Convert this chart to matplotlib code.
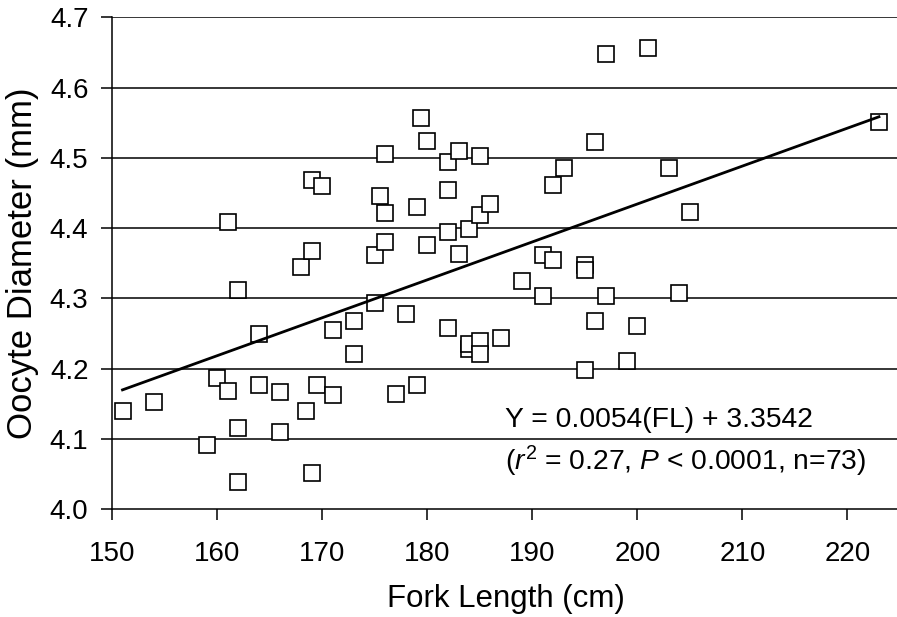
import matplotlib.pyplot as plt

plt.rcParams['font.family'] = ['Liberation Sans', 'DejaVu Sans']
plt.rcParams['mathtext.fontset'] = 'custom'
plt.rcParams['mathtext.rm'] = 'Liberation Sans'
plt.rcParams['mathtext.it'] = 'Liberation Sans:italic'

# fork length (cm) and oocyte diameter (mm)
fork_length = [151, 154, 159, 160, 161, 161, 162, 162, 162, 164, 164, 166, 166,
               168, 168.5, 169, 169, 169, 169.5, 170, 171, 171, 173, 173, 175,
               175, 175.5, 176, 176, 176, 177, 178, 179, 179, 179.4, 180, 180,
               182, 182, 182, 182, 183, 183, 184, 184, 184, 185, 185, 185, 185,
               186, 187, 189, 191, 191, 192, 192, 193, 195, 195, 195, 196, 196,
               197, 197, 199, 200, 201, 203, 204, 205, 223]
oocyte_diam = [4.140, 4.152, 4.091, 4.187, 4.168, 4.408, 4.312, 4.116, 4.039,
               4.249, 4.176, 4.167, 4.110, 4.345, 4.139, 4.051, 4.368, 4.469,
               4.177, 4.460, 4.162, 4.255, 4.267, 4.221, 4.293, 4.361, 4.446,
               4.505, 4.421, 4.380, 4.164, 4.277, 4.177, 4.430, 4.557, 4.524,
               4.376, 4.258, 4.494, 4.454, 4.395, 4.509, 4.363, 4.228, 4.235,
               4.399, 4.239, 4.220, 4.503, 4.419, 4.434, 4.244, 4.324, 4.362,
               4.303, 4.355, 4.461, 4.485, 4.347, 4.340, 4.198, 4.523, 4.267,
               4.648, 4.303, 4.211, 4.261, 4.656, 4.486, 4.308, 4.423, 4.551]

slope = 0.0054
intercept = 3.3542
fit_x = [151, 223]
fit_y = [slope * x + intercept for x in fit_x]

x_ticks = [150, 160, 170, 180, 190, 200, 210, 220]
y_ticks = [4.0, 4.1, 4.2, 4.3, 4.4, 4.5, 4.6, 4.7]

fig = plt.figure(figsize=(8.97, 6.17), dpi=100)
ax = fig.add_axes([112 / 897, 108 / 617, 788 / 897, 491.7 / 617])

for yv in y_ticks[1:]:
    ax.axhline(yv, color='black', lw=1.1, zorder=1)

ax.plot(fork_length, oocyte_diam, 's', ms=12, mfc='white', mec='black',
        mew=1.2, zorder=2, clip_on=False)
ax.plot(fit_x, fit_y, color='black', lw=2.0, zorder=3)

ax.set_xlim(150, 225)
ax.set_ylim(4.0, 4.7)
ax.set_xticks(x_ticks)
ax.set_yticks(y_ticks)
ax.set_yticklabels([f'{v:.1f}' for v in y_ticks])
ax.tick_params(axis='both', direction='out', length=8, width=1.1, labelsize=20)
ax.tick_params(axis='x', pad=15)
ax.tick_params(axis='y', pad=9)
for side in ['top', 'right']:
    ax.spines[side].set_visible(False)
for side in ['left', 'bottom']:
    ax.spines[side].set_linewidth(1.1)

ax.set_xlabel('Fork Length (cm)', fontsize=22.5, labelpad=12)
ax.set_ylabel('Oocyte Diameter (mm)', fontsize=25, labelpad=8)

ax.text(187.4, 4.127, 'Y = 0.0054(FL) + 3.3542', fontsize=20.3, va='center')
ax.text(187.4, 4.068, '($r^2$ = 0.27, $P$ < 0.0001, n=73)', fontsize=20.3, va='center')

fig.savefig('out.png', dpi=100)
